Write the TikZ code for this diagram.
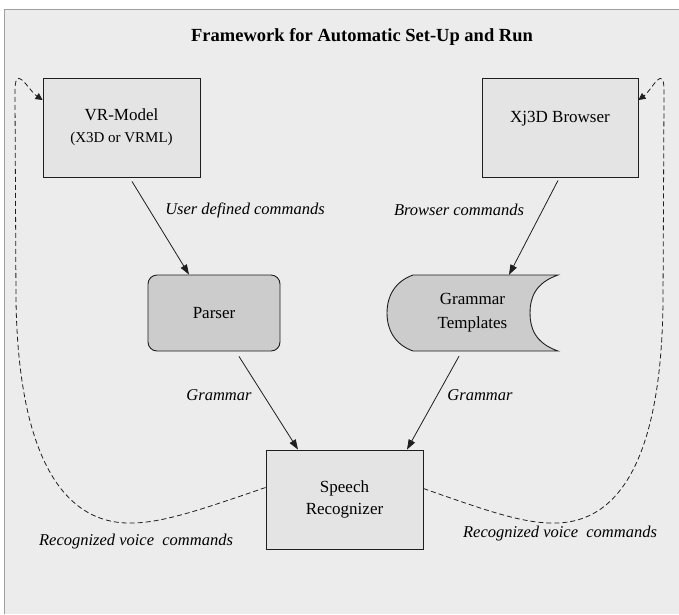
\documentclass[tikz,border=0pt]{standalone}
\usepackage{fontspec}
\setmainfont{Liberation Serif}
\usetikzlibrary{arrows.meta}
\definecolor{panel}{HTML}{ECECEC}
\definecolor{boxfill}{HTML}{E4E4E4}
\definecolor{procfill}{HTML}{CCCCCC}
\definecolor{frame}{HTML}{A0A0A0}
\definecolor{ink}{HTML}{1E1E1E}
\begin{document}
\begin{tikzpicture}[x=1pt,y=-1pt,
  plainbox/.style={draw=ink, line width=0.9pt, fill=boxfill, inner sep=0pt,
    align=center, font=\fontsize{17}{22}\selectfont},
  procbox/.style={draw=ink, line width=0.9pt, fill=procfill, inner sep=0pt,
    align=center, font=\fontsize{17}{24}\selectfont},
  flow/.style={draw=ink, line width=0.8pt, -{Triangle[length=10pt,width=7pt]}},
  feedback/.style={draw=ink, line width=0.8pt, dash pattern=on 5pt off 3pt,
    -{Triangle[length=7pt,width=7pt]}},
  lbl/.style={font=\itshape\fontsize{16.5}{18}\selectfont, inner sep=0pt}
]
\useasboundingbox (0,0) rectangle (679,614);
% white margin and grey panel
\fill[white] (0,0) rectangle (679,614);
\fill[panel] (4,9) rectangle (679,614);
\draw[frame, line width=0.8pt] (4,614) -- (4,9) -- (679,9);

% title
\node[font=\bfseries\fontsize{18.5}{20}\selectfont, inner sep=0pt] (title) at (362,37)
  {Framework for Automatic Set-Up and Run};

% boxes
\node[plainbox, minimum width=157pt, minimum height=99pt] (vr) at (121.5,127.5)
  {VR-Model\\{\fontsize{15}{18}\selectfont (X3D or VRML)}};
\node[plainbox, minimum width=156pt, minimum height=99pt] (xj) at (560,127.5)
  {Xj3D Browser\\\mbox{}};
\node[procbox, rounded corners=9pt, minimum width=132pt, minimum height=76pt] (parser) at (214,313)
  {Parser};
\node[inner sep=0pt, minimum width=171pt, minimum height=76pt] (gt) at (472.5,313) {};
\node[plainbox, minimum width=157pt, minimum height=99pt] (sr) at (344.5,499.5)
  {Speech\\Recognizer};

% stored-data outline of the grammar templates
\filldraw[draw=ink, line width=0.9pt, fill=procfill]
  (413,275) -- (558,275)
  .. controls (535,283) and (530,298) .. (530,313)
  .. controls (530,328) and (535,343) .. (558,351)
  -- (413,351)
  .. controls (396,345) and (387,331) .. (387,313)
  .. controls (387,295) and (396,281) .. (413,275) -- cycle;
\node[align=center, font=\fontsize{17}{24}\selectfont, inner sep=0pt] (gtxt) at (gt.center)
  {Grammar\\Templates};

% command flow
\draw[flow] ([xshift=10.5pt,yshift=-4pt]vr.south) -- ([xshift=-25pt]parser.north);
\draw[flow] ([xshift=-2pt,yshift=-3pt]xj.south) -- ([xshift=36.5pt]gt.north);
\draw[flow] ([xshift=25pt,yshift=-5pt]parser.south) -- ([xshift=-46.5pt]sr.north);
\draw[flow] ([xshift=-13.5pt,yshift=-5pt]gt.south) -- ([xshift=62.5pt]sr.north);

\node[lbl] (l1) at (245,210) {User defined commands};
\node[lbl] (l2) at (459,210) {Browser commands};
\node[lbl] (l3) at (219,395) {Grammar};
\node[lbl] (l4) at (480,395) {Grammar};

% recognised commands fed back to the models
\draw[feedback] ([yshift=12pt]sr.west)
  .. controls (200,510) and (160,524) .. (127,523)
  .. controls (55,521) and (18,440) .. (16,300)
  -- (15,95)
  .. controls (14,60) and (28,90) .. ([yshift=27.5pt]vr.west);
\draw[feedback] ([yshift=11pt]sr.east)
  .. controls (490,512) and (525,524) .. (557,523)
  .. controls (628,521) and (662,440) .. (663,300)
  -- (664,95)
  .. controls (665,60) and (652,90) .. ([yshift=27.5pt]xj.east);

\node[lbl] (l5) at (136,542) {Recognized voice\ \ commands};
\node[lbl] (l6) at (560,534) {Recognized voice\ \ commands};
\end{tikzpicture}
\end{document}
